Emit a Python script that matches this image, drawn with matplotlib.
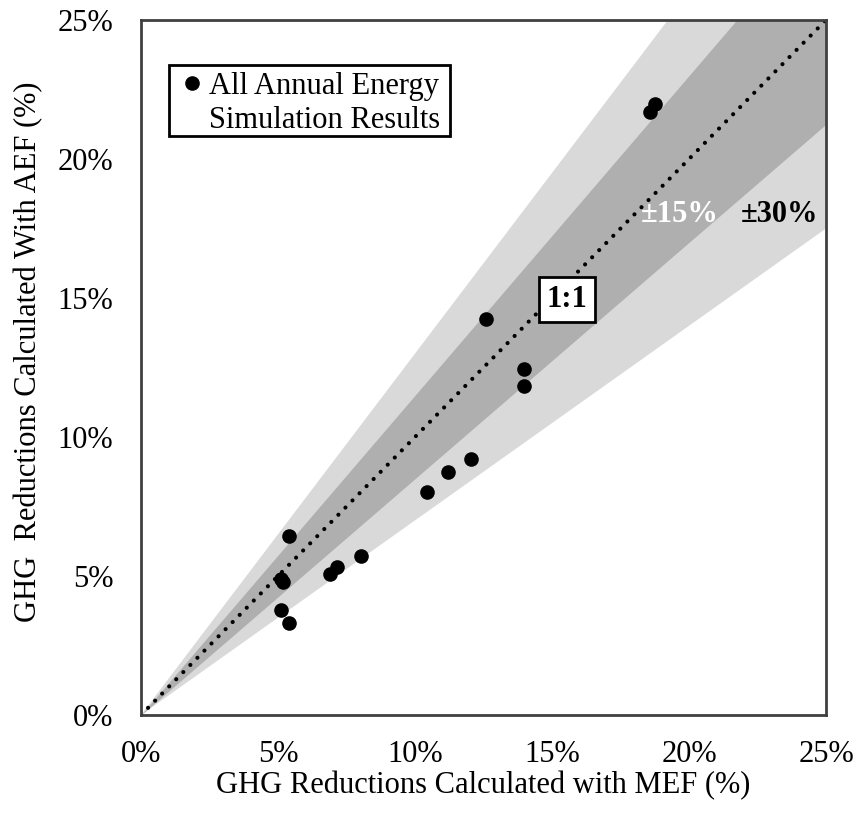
import numpy as np
import matplotlib
matplotlib.use("Agg")
import matplotlib.pyplot as plt
from matplotlib.patches import Rectangle
from matplotlib.ticker import FuncFormatter

# GHG reductions (%) from the annual energy simulations
mef_reduction = [5.40, 5.12, 5.20, 5.11, 5.40, 6.90, 7.16, 8.02,
                 10.45, 11.19, 12.03, 12.59, 13.99, 13.99, 18.58, 18.76]
aef_reduction = [6.44, 4.90, 4.78, 3.78, 3.32, 5.06, 5.33, 5.72,
                 8.01, 8.74, 9.20, 14.26, 12.43, 11.85, 21.70, 21.98]

ticks = [0, 5, 10, 15, 20, 25]
inner_band = 0.15
outer_band = 0.30
legend_lines = ['All Annual Energy', 'Simulation Results']

plt.rcParams['font.family'] = ['Liberation Serif', 'DejaVu Serif']
FS = 22

fig = plt.figure(figsize=(8.56, 8.21), dpi=100)
ax = fig.add_axes([141 / 856, 1 - 715 / 821, 685 / 856, 695 / 821])

xs = np.linspace(0, 25, 200)
ax.fill_between(xs, xs * (1 - outer_band), xs * (1 + outer_band),
                color='#d9d9d9', lw=0, zorder=1)
ax.fill_between(xs, xs * (1 - inner_band), xs * (1 + inner_band),
                color='#afafaf', lw=0, zorder=2)

ax.plot([0, 25], [0, 25], color='black', lw=3, ls=(0, (0.01, 2.4)),
        dash_capstyle='round', zorder=3)

ax.scatter(mef_reduction, aef_reduction, s=90, color='black', zorder=4)

ax.set_xlim(0, 25)
ax.set_ylim(0, 25)
ax.set_xticks(ticks)
ax.set_yticks(ticks)
pct = FuncFormatter(lambda v, _: f"{v:.0f}%")
ax.xaxis.set_major_formatter(pct)
ax.yaxis.set_major_formatter(pct)
ax.tick_params(length=0, labelsize=FS)
ax.tick_params(axis='x', pad=18)
ax.tick_params(axis='y', pad=20)

for s in ax.spines.values():
    s.set_color('#404040')
    s.set_linewidth(2)
    s.set_zorder(5)

fig.text(0.5 * (141 + 826) / 856, 1 - 786 / 821,
         'GHG Reductions Calculated with MEF (%)', fontsize=FS,
         ha='center', va='center')
fig.text(29 / 856, 1 - 352 / 821,
         'GHG  Reductions Calculated With AEF (%)', fontsize=FS,
         ha='center', va='center', rotation=90)

# legend box drawn by hand so the marker sits on the first line
ax.add_patch(Rectangle((0.041, 0.833), 0.410, 0.102, transform=ax.transAxes,
                       fc='white', ec='black', lw=2, zorder=6))
ax.plot([0.075], [0.909], 'o', ms=9.5, color='black',
        transform=ax.transAxes, zorder=7)
ax.text(0.099, 0.8935, legend_lines[0], fontsize=FS, transform=ax.transAxes,
        ha='left', va='baseline', zorder=7)
ax.text(0.099, 0.8445, legend_lines[1], fontsize=FS, transform=ax.transAxes,
        ha='left', va='baseline', zorder=7)

ax.text(15.55, 14.95, '1:1', fontsize=FS, fontweight='bold', ha='center',
        va='center', zorder=6,
        bbox=dict(boxstyle='square,pad=0.25', fc='white', ec='black', lw=2))
ax.text(19.67, 18.0, '±15%', fontsize=FS, fontweight='bold', color='white',
        ha='center', va='center', zorder=6)
ax.text(23.3, 18.0, '±30%', fontsize=FS, fontweight='bold', color='black',
        ha='center', va='center', zorder=6)

fig.savefig('out.png', dpi=100)
